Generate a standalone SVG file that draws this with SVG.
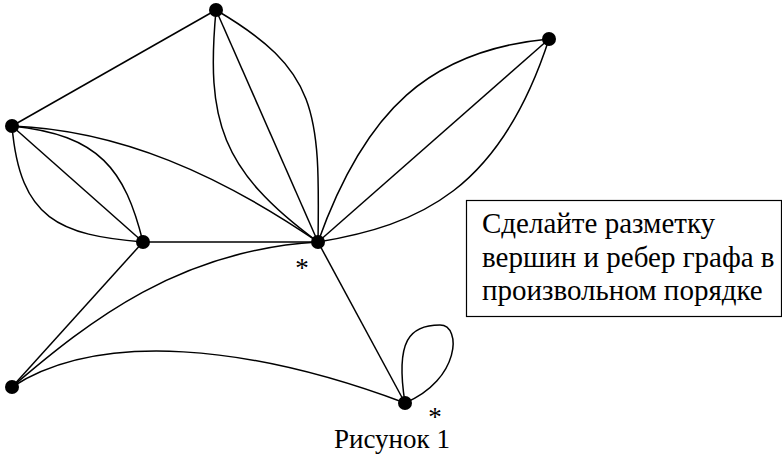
<svg xmlns="http://www.w3.org/2000/svg" width="782" height="458" viewBox="0 0 782 458">
<style>
.e{fill:none;stroke:#000;stroke-width:1.5}
.n{fill:#000}
.t{font-family:'Times New Roman','Liberation Serif','Noto Serif','DejaVu Serif',Times,serif;font-size:29px;fill:#000}
.s{font-family:'Times New Roman','Liberation Serif','Noto Serif','DejaVu Serif',Times,serif;font-size:27px;fill:#000}
</style>
<rect width="782" height="458" fill="#fff"/>
<g id="edges">
<path class="e" d="M216,10 L12,126"/>
<path class="e" d="M216,10 L318,242"/>
<path class="e" d="M216,10 C206,120 220,170 318,242"/>
<path class="e" d="M216,10 C318,70 320,110 318,242"/>
<path class="e" d="M12,126 C120,130 220,175 318,242"/>
<path class="e" d="M12,126 L143,242"/>
<path class="e" d="M12,126 C20,220 60,235 143,242"/>
<path class="e" d="M12,126 C100,135 125,170 143,242"/>
<path class="e" d="M143,242 L318,242"/>
<path class="e" d="M143,242 L12,387"/>
<path class="e" d="M12,387 C90,320 180,250 318,242"/>
<path class="e" d="M12,387 C100,330 250,345 405,403"/>
<path class="e" d="M318,242 L405,403"/>
<path class="e" d="M405,403 C395,340 410,325 440,325 C462,325 460,380 405,403"/>
<path class="e" d="M318,242 L549,39"/>
<path class="e" d="M318,242 C365,110 430,50 549,39"/>
<path class="e" d="M318,242 C420,225 500,190 549,39"/>
</g>
<g id="A"><circle class="n" cx="216" cy="10" r="7"/></g>
<g id="B"><circle class="n" cx="12" cy="126" r="7"/></g>
<g id="C"><circle class="n" cx="143" cy="242" r="7"/></g>
<g id="D"><circle class="n" cx="318" cy="242" r="7"/><text class="s" x="302" y="277" text-anchor="middle">*</text></g>
<g id="E"><circle class="n" cx="549" cy="39" r="7"/></g>
<g id="F"><circle class="n" cx="12" cy="387" r="7"/></g>
<g id="G"><circle class="n" cx="405" cy="403" r="7"/><text class="s" x="435" y="426" text-anchor="middle">*</text></g>
<g id="note">
<rect x="466.5" y="200.5" width="315" height="116" fill="#fff" stroke="#000" stroke-width="1.2"/>
<text class="t" x="482" y="233">Сделайте разметку</text>
<text class="t" x="482" y="267">вершин и ребер графа в</text>
<text class="t" x="482" y="300">произвольном порядке</text>
</g>
<text class="s" x="392" y="448" text-anchor="middle">Рисунок 1</text>
</svg>
